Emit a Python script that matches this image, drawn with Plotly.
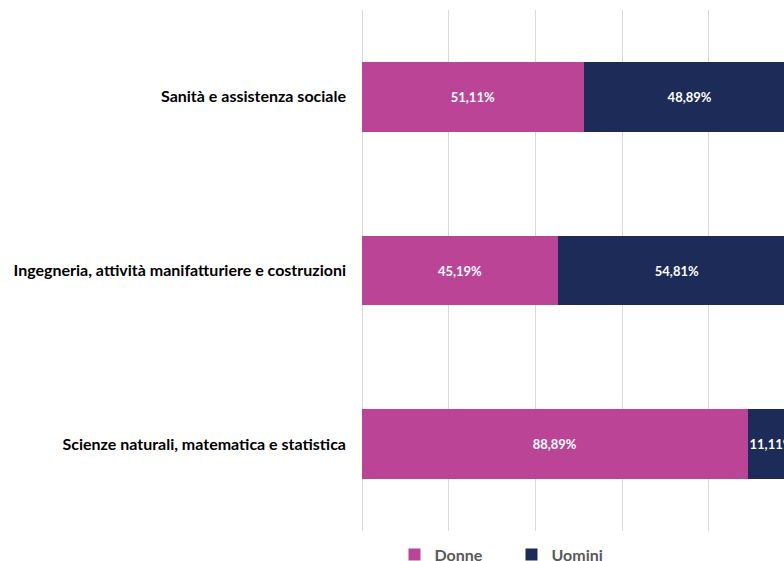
import plotly.graph_objects as go

# Ambiti di studio, dall'alto verso il basso
categorie = [
    "Sanità e assistenza sociale",
    "Ingegneria, attività manifatturiere e costruzioni",
    "Scienze naturali, matematica e statistica",
]
donne = [51.11, 45.19, 88.89]
uomini = [48.89, 54.81, 11.11]

ROSA = "#BC4497"
BLU = "#1D2B58"
FONT = "Lato"
GRIGLIA = "#D9D9D9"

fig = go.Figure()
for nome, valori, colore in [("Donne", donne, ROSA), ("Uomini", uomini, BLU)]:
    fig.add_trace(go.Bar(
        name=nome,
        y=categorie,
        x=valori,
        orientation="h",
        marker=dict(color=colore, line=dict(width=0)),
        texttemplate="%{x:.2f}%",
        textposition="inside",
        insidetextanchor="middle",
        textangle=0,
        textfont=dict(family=FONT, size=13, color="white", weight="bold"),
        constraintext="none",
    ))

fig.update_layout(
    barmode="stack",
    bargap=0.6,
    separators=",.",
    width=784,
    height=561,
    margin=dict(l=362, r=0, t=10, b=30, autoexpand=False),
    paper_bgcolor="white",
    plot_bgcolor="white",
    font=dict(family=FONT),
    xaxis=dict(
        range=[0, 97.3],
        dtick=20,
        showgrid=True,
        gridcolor=GRIGLIA,
        gridwidth=1,
        zeroline=True,
        zerolinecolor=GRIGLIA,
        zerolinewidth=1,
        showticklabels=False,
        showline=False,
    ),
    yaxis=dict(
        autorange="reversed",
        showgrid=False,
        showline=False,
        zeroline=False,
        ticks="",
        ticklabelstandoff=15,
        tickfont=dict(family=FONT, size=16, color="black", weight="bold"),
    ),
    legend=dict(
        orientation="h",
        traceorder="normal",
        x=0.077,
        xanchor="left",
        y=-0.0125,
        yanchor="top",
        entrywidth=72,
        entrywidthmode="pixels",
        font=dict(family=FONT, size=16, color="#595959", weight="bold"),
        itemclick=False,
    ),
)

fig.write_html("out.html")
